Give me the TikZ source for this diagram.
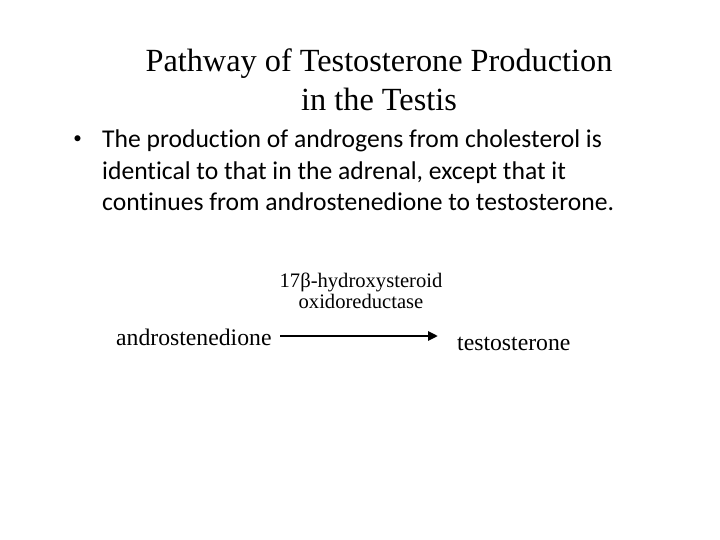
\documentclass[tikz,border=0pt]{standalone}
\usepackage{fontspec}
\setmainfont{Liberation Serif}
\newfontfamily\bodyfont[Ligatures=NoCommon]{Carlito}
\usetikzlibrary{arrows.meta}
\tikzset{
  titletext/.style={anchor=base, inner sep=0pt, font=\fontsize{32.3bp}{38bp}\selectfont},
  bodytext/.style={anchor=base west, inner sep=0pt, font=\bodyfont\fontsize{25.6bp}{31bp}\selectfont},
  bulletmark/.style={anchor=center, inner sep=0pt, font=\bodyfont\fontsize{17bp}{20bp}\selectfont},
  enzymetext/.style={anchor=base, inner sep=0pt, font=\fontsize{20.6bp}{24bp}\selectfont},
  compound/.style={anchor=base west, inner sep=0pt, font=\fontsize{23.7bp}{28bp}\selectfont},
  reaction/.style={line width=2.7bp, -{Triangle[length=10bp,width=9bp]}}
}
\begin{document}
\begin{tikzpicture}[x=1bp,y=-1bp]
\useasboundingbox[fill=white] (0,0) rectangle (720,540);
\node[titletext] (t1) at (379,71.7) {Pathway of Testosterone Production};
\node[titletext] (t2) at (379,111) {in the Testis};
\node[bulletmark] (bul) at (77.5,139.5) {•};
\node[bodytext] (b1) at (102,148) {The production of androgens from cholesterol is};
\node[bodytext] (b2) at (102,179.5) {identical to that in the adrenal, except that it};
\node[bodytext] (b3) at (102,210.5) {continues from androstenedione to testosterone.};
\node[enzymetext] (e1) at (361,287.5) {17β-hydroxysteroid};
\node[enzymetext] (e2) at (361,308) {oxidoreductase};
\node[compound] (andro) at (116,345) {androstenedione};
\node[compound] (testo) at (457,350) {testosterone};
\coordinate (as) at (280,336);
\coordinate (ae) at (438,336);
\draw[reaction] (as) -- (ae);
\end{tikzpicture}
\end{document}
